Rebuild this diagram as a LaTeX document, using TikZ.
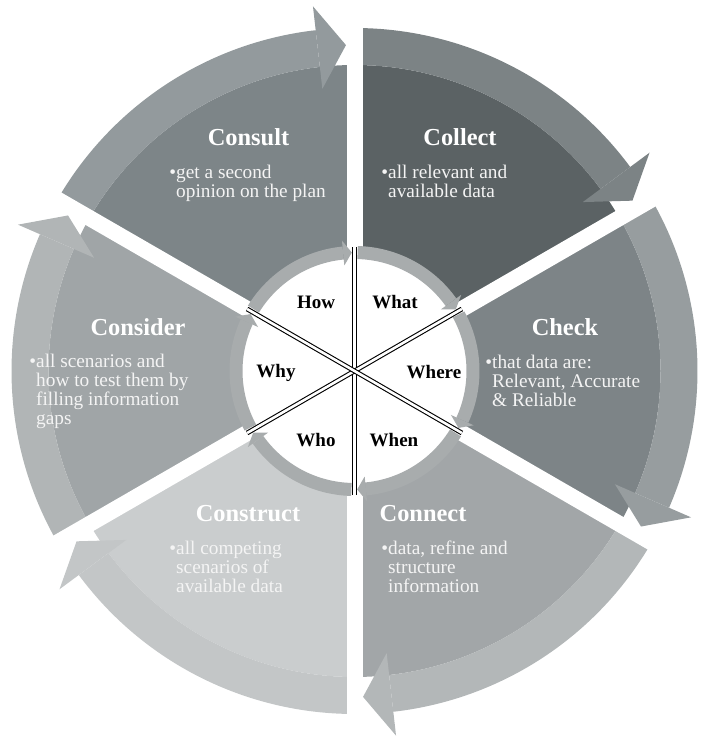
\documentclass[tikz,border=0pt]{standalone}
\usepackage{fontspec}
\setmainfont{Liberation Serif}
\definecolor{consultBody}{HTML}{7D8588}
\definecolor{consultBand}{HTML}{939A9D}
\definecolor{collectBody}{HTML}{5B6264}
\definecolor{collectBand}{HTML}{7C8385}
\definecolor{checkBody}{HTML}{7D8487}
\definecolor{checkBand}{HTML}{979D9F}
\definecolor{connectBody}{HTML}{A2A6A8}
\definecolor{connectBand}{HTML}{B3B7B8}
\definecolor{constructBody}{HTML}{CACDCE}
\definecolor{constructBand}{HTML}{C3C6C7}
\definecolor{considerBody}{HTML}{A0A5A7}
\definecolor{considerBand}{HTML}{B1B5B6}
\definecolor{ringc}{HTML}{A8ACAD}
\definecolor{bodytext}{HTML}{F4F4F4}
\tikzset{
  titletext/.style={anchor=base, inner sep=0pt, text=white,
    font=\bfseries\fontsize{24.4}{26}\selectfont},
  bodytxt/.style={anchor=north west, inner sep=0pt, align=left, text=bodytext,
    font=\fontsize{19.3}{19}\selectfont},
  qlabel/.style={anchor=base, inner sep=0pt, text=black,
    font=\bfseries\fontsize{19}{20}\selectfont},
  gapline/.style={white, line width=16pt},
  ringarc/.style={ringc, line width=13pt},
  dline/.style={draw=black, double=white, double distance=2.6pt, line width=1.1pt}
}
\newcommand{\bul}{\rule{0pt}{14pt}\llap{\textbullet}}
\begin{document}
\begin{tikzpicture}[x=1pt,y=1pt]
\useasboundingbox (0,0) rectangle (702,743);
\begin{scope}[shift={(354.5,372)}]
  % outer segments
  \foreach \a/\bc/\nc in {90/collectBody/collectBand, 30/checkBody/checkBand,
      -30/connectBody/connectBand, -90/constructBody/constructBand,
      -150/considerBody/considerBand, 150/consultBody/consultBand}{
    \pgfmathsetmacro\e{\a-60}
    \pgfmathsetmacro\eb{\e+6.5}
    \pgfmathsetmacro\et{\e+1.5}
    \fill[\bc] (0,0) -- (\a:306) arc[start angle=\a, end angle=\e, radius=306] -- cycle;
    \fill[\nc] (\a:343) arc[start angle=\a, end angle=\eb, radius=343]
      -- (\eb:306) arc[start angle=\eb, end angle=\a, radius=306] -- cycle;
    \fill[\nc] (\eb:367) -- (\et:326) -- (\eb:284) -- cycle;
  }
  % white gaps
  \foreach \t in {90,30,-30,-90,-150,150}{
    \draw[gapline] (0,0) -- (\t:395);
  }
  % inner white disc
  \fill[white] (0,0) circle (112.5);
  % inner ring arrows
  \foreach \a in {90,30,-30,-90,-150,150}{
    \pgfmathsetmacro\e{\a-60}
    \pgfmathsetmacro\rs{\a-1.5}
    \pgfmathsetmacro\rb{\e+5.5}
    \pgfmathsetmacro\rt{\e+1.3}
    \draw[ringarc] (\rs:118.5) arc[start angle=\rs, end angle=\rb, radius=118.5];
    \fill[ringc] (\rb:106) -- (\rt:118.5) -- (\rb:131) -- cycle;
  }
  % double lines
  \foreach \t in {90,30,-30}{
    \draw[dline] (\t:124) -- (\t+180:124);
  }
\end{scope}
% titles
\node[titletext] (tCollect) at (460,597) {Collect};
\node[titletext] (tConsult) at (248.5,597) {Consult};
\node[titletext] (tCheck) at (565,407) {Check};
\node[titletext] (tConsider) at (138,407) {Consider};
\node[titletext] (tConstruct) at (248,221) {Construct};
\node[titletext] (tConnect) at (423,221) {Connect};
% body texts
\node[bodytxt] (bConsult) at (176,579) {\bul get a second\\opinion on the plan};
\node[bodytxt] (bCollect) at (388,579) {\bul all relevant and\\available data};
\node[bodytxt] (bCheck) at (492,389) {\bul that data are:\\Relevant, Accurate\\\& Reliable};
\node[bodytxt] (bConsider) at (36,390) {\bul all scenarios and\\how to test them by\\filling information\\gaps};
\node[bodytxt] (bConstruct) at (176,203) {\bul all competing\\scenarios of\\available data};
\node[bodytxt] (bConnect) at (388,203) {\bul data, refine and\\structure\\information};
% inner labels
\node[qlabel] (lHow) at (316,434) {How};
\node[qlabel] (lWhat) at (395,434) {What};
\node[qlabel] (lWhy) at (276,365) {Why};
\node[qlabel] (lWhere) at (434,364) {Where};
\node[qlabel] (lWho) at (316,296) {Who};
\node[qlabel] (lWhen) at (394,296) {When};
\end{tikzpicture}
\end{document}
